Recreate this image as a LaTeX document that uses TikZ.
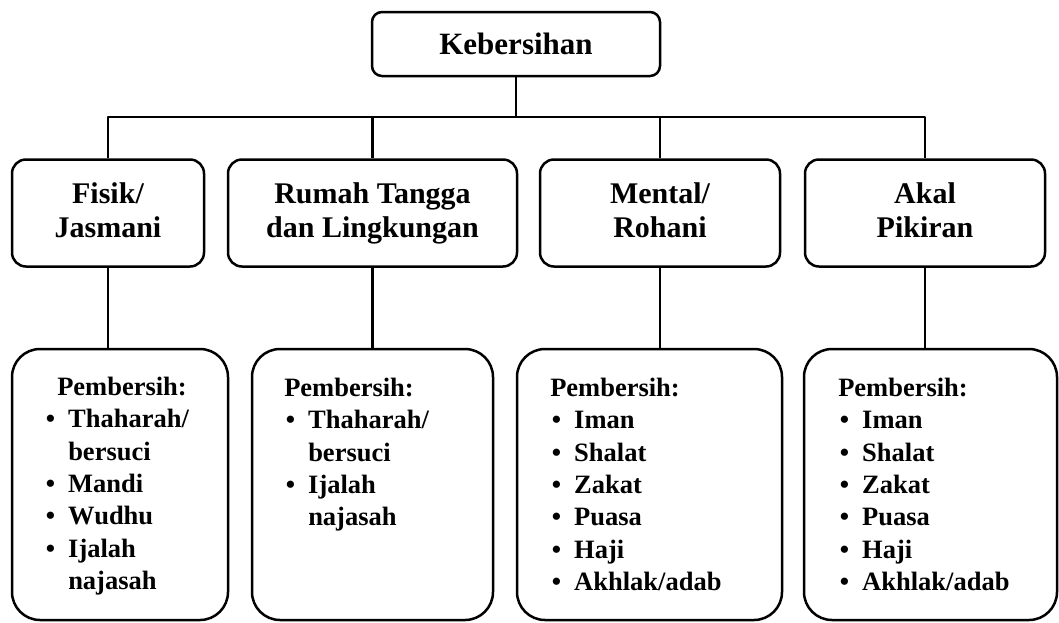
\documentclass[tikz,border=0pt]{standalone}
\usepackage{fontspec}
\setmainfont{Liberation Serif}
\newcommand{\bl}[1]{\hspace*{1.5pt}\makebox[22.5pt][l]{•}#1}
\newcommand{\cn}[1]{\hspace*{24pt}#1}
\begin{document}
\begin{tikzpicture}[x=1pt,y=-1pt,line width=2.5pt,line join=round,
  topbox/.style={draw,rounded corners=10pt,minimum width=288pt,minimum height=64pt,inner sep=0pt,font=\fontsize{31}{36}\selectfont\bfseries},
  midbox/.style={draw,rounded corners=14pt,minimum height=107pt,inner sep=0pt,align=center,text height=54pt,text depth=6pt,font=\fontsize{30}{34}\selectfont\bfseries},
  lowbox/.style={draw,rounded corners=28pt,minimum height=271pt,inner sep=0pt},
  list/.style={anchor=north west,inner sep=0pt,align=left,font=\fontsize{26.5}{32.3}\selectfont\bfseries}]
\useasboundingbox (0,0) rectangle (1059,622);
\node[topbox] (top) at (516,44) {Kebersihan};
\node[midbox,minimum width=192pt] (m1) at (108,213) {Fisik/\\Jasmani};
\node[midbox,minimum width=289pt] (m2) at (372.5,213) {Rumah Tangga\\dan Lingkungan};
\node[midbox,minimum width=240pt] (m3) at (660,213) {Mental/\\Rohani};
\node[midbox,minimum width=240pt] (m4) at (925,213) {Akal\\Pikiran};
\node[lowbox,minimum width=216pt] (b1) at (120,484.5) {};
\node[lowbox,minimum width=241pt] (b2) at (372.5,484.5) {};
\node[lowbox,minimum width=265pt] (b3) at (649.5,484.5) {};
\node[lowbox,minimum width=253pt] (b4) at (930.5,484.5) {};
\coordinate (bus) at (516,117);
\draw (top.south) -- (bus);
\draw (m1.north) -- (m1.north |- bus) -- (m4.north |- bus) -- (m4.north);
\draw (m2.north) -- (m2.north |- bus);
\draw (m3.north) -- (m3.north |- bus);
\draw (m1.south) -- (m1.south |- b1.north);
\draw (m2.south) -- (m2.south |- b2.north);
\draw (m3.south) -- (m3.south |- b3.north);
\draw (m4.south) -- (m4.south |- b4.north);
\node[list] (t1) at (43,376) {\hspace*{13pt}Pembersih:\\\bl{Thaharah/}\\\cn{bersuci}\\\bl{Mandi}\\\bl{Wudhu}\\\bl{Ijalah}\\\cn{najasah}};
\node[list] (t2) at (283,377) {Pembersih:\\\bl{Thaharah/}\\\cn{bersuci}\\\bl{Ijalah}\\\cn{najasah}};
\node[list] (t3) at (549,377) {Pembersih:\\\bl{Iman}\\\bl{Shalat}\\\bl{Zakat}\\\bl{Puasa}\\\bl{Haji}\\\bl{Akhlak/adab}};
\node[list] (t4) at (837,377) {Pembersih:\\\bl{Iman}\\\bl{Shalat}\\\bl{Zakat}\\\bl{Puasa}\\\bl{Haji}\\\bl{Akhlak/adab}};
\end{tikzpicture}
\end{document}
